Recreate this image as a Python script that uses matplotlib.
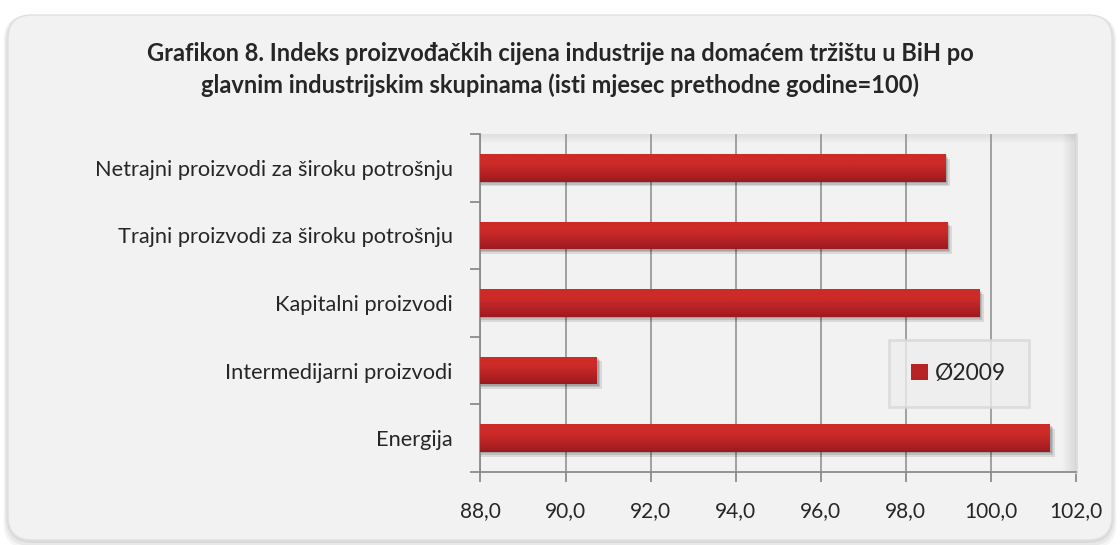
import numpy as np
import matplotlib.pyplot as plt
from matplotlib.patches import FancyBboxPatch
from matplotlib.ticker import FuncFormatter, FixedLocator
from matplotlib.colors import LinearSegmentedColormap

plt.rcParams['font.family'] = ['Lato', 'DejaVu Sans']

# data (top to bottom)
categories = ['Netrajni proizvodi za široku potrošnju',
              'Trajni proizvodi za široku potrošnju',
              'Kapitalni proizvodi',
              'Intermedijarni proizvodi',
              'Energija']
values = [98.94, 98.98, 99.74, 90.75, 101.4]
series_name = 'Ø2009'
xticks = [88, 90, 92, 94, 96, 98, 100, 102]
title = ('Grafikon 8. Indeks proizvođačkih cijena industrije na domaćem tržištu u BiH po\n'
         'glavnim industrijskim skupinama (isti mjesec prethodne godine=100)')

base = 88.0
fig = plt.figure(figsize=(11.2, 5.45), dpi=100)
fig.patch.set_facecolor('white')

# rounded chart-area background with a soft edge
for i, a in enumerate([0.04, 0.05, 0.06]):
    d = 0.03 * (3 - i)
    sh = FancyBboxPatch((0.08 - d / 2, 0.05 - d), 11.04 + d, 5.25 + d,
                        boxstyle='round,pad=0,rounding_size=0.26',
                        transform=fig.dpi_scale_trans, facecolor='black', alpha=a,
                        edgecolor='none', zorder=-3)
    fig.patches.append(sh)
bg = FancyBboxPatch((0.08, 0.05), 11.04, 5.25,
                    boxstyle='round,pad=0,rounding_size=0.24',
                    transform=fig.dpi_scale_trans, facecolor='#f2f2f2',
                    edgecolor='#e0e0e0', linewidth=1.0, zorder=-2)
fig.patches.append(bg)

fig.text(0.5, 0.873, title, ha='center', va='center', fontsize=17,
         fontweight='bold', color='#262626', linespacing=1.42)

ax = fig.add_axes([0.429, 0.134, 0.5317, 0.620])
ax.set_facecolor('#f2f2f2')

n = len(categories)
ypos = np.arange(n)[::-1]
widths = [v - base for v in values]
h = 0.41

# inner shadow of the plot area (top and right edges)
fade = np.zeros((32, 1, 4))
fade[:, 0, 3] = np.linspace(0, 0.09, 32)
ax.imshow(fade, extent=[0, 1, 0.97, 1.0], transform=ax.transAxes,
          origin='lower', aspect='auto', zorder=0.5)
fade_r = np.zeros((1, 32, 4))
fade_r[0, :, 3] = np.linspace(0, 0.10, 32)
ax.imshow(fade_r, extent=[0.975, 1.0, 0, 1], transform=ax.transAxes,
          origin='lower', aspect='auto', zorder=0.5)

# soft shadow under the bars
for dx, dy, a in [(0.10, 0.07, 0.10), (0.06, 0.045, 0.12), (0.03, 0.02, 0.14)]:
    ax.barh(ypos - dy, [w + dx for w in widths], height=h, left=base,
            color='black', alpha=a, linewidth=0, zorder=2)

bars = ax.barh(ypos, widths, height=h, left=base, color='#b82326',
               linewidth=0, zorder=3, label=series_name)

# vertical gradient inside each bar
grad = np.linspace(0, 1, 64).reshape(-1, 1)
cmap = LinearSegmentedColormap.from_list('bar', ['#9c1a1f', '#b72226', '#cd2b28', '#cd2b28'])
for b in bars:
    x0, y0 = b.get_x(), b.get_y()
    im = ax.imshow(grad, extent=[x0, x0 + b.get_width(), y0, y0 + b.get_height()],
                   origin='lower', aspect='auto', cmap=cmap, zorder=4)
    im.set_clip_path(b)

ax.set_xlim(88, 102)
ax.set_ylim(-0.5, n - 0.5)
ax.set_xticks(xticks)
ax.xaxis.set_major_formatter(FuncFormatter(lambda v, p: f'{v:.1f}'.replace('.', ',')))
ax.set_yticks(ypos)
ax.set_yticklabels(categories)
ax.yaxis.set_minor_locator(FixedLocator(np.arange(-0.5, n, 1.0)))

ax.tick_params(axis='x', length=7, width=1.3, color='#8c8c8c', pad=14,
               labelsize=15, labelcolor='#262626')
ax.tick_params(axis='y', which='major', length=0, pad=20, labelsize=15.7,
               labelcolor='#262626')
ax.tick_params(axis='y', which='minor', length=7, width=1.3, color='#8c8c8c')

ax.grid(axis='x', color='#9a9a9a', linewidth=1.3, zorder=1)
ax.set_axisbelow(True)
ax.spines['top'].set_visible(False)
ax.spines['right'].set_color('#dcdcdc')
ax.spines['right'].set_linewidth(2.0)
for s in ['left', 'bottom']:
    ax.spines[s].set_color('#8c8c8c')
    ax.spines[s].set_linewidth(1.3)

leg = ax.legend(handles=[bars], loc='center', bbox_to_anchor=(0.803, 0.291),
                fontsize=16.5, frameon=True, fancybox=False, shadow=False,
                handlelength=0.72, handleheight=0.72, handletextpad=0.3,
                borderpad=1.0, borderaxespad=0)
leg.get_frame().set_facecolor('#ededed')
leg.get_frame().set_edgecolor('#d8d8d8')
leg.get_frame().set_linewidth(2.0)
for t in leg.get_texts():
    t.set_color('#262626')

fig.savefig('out.png', dpi=100, facecolor='white')
